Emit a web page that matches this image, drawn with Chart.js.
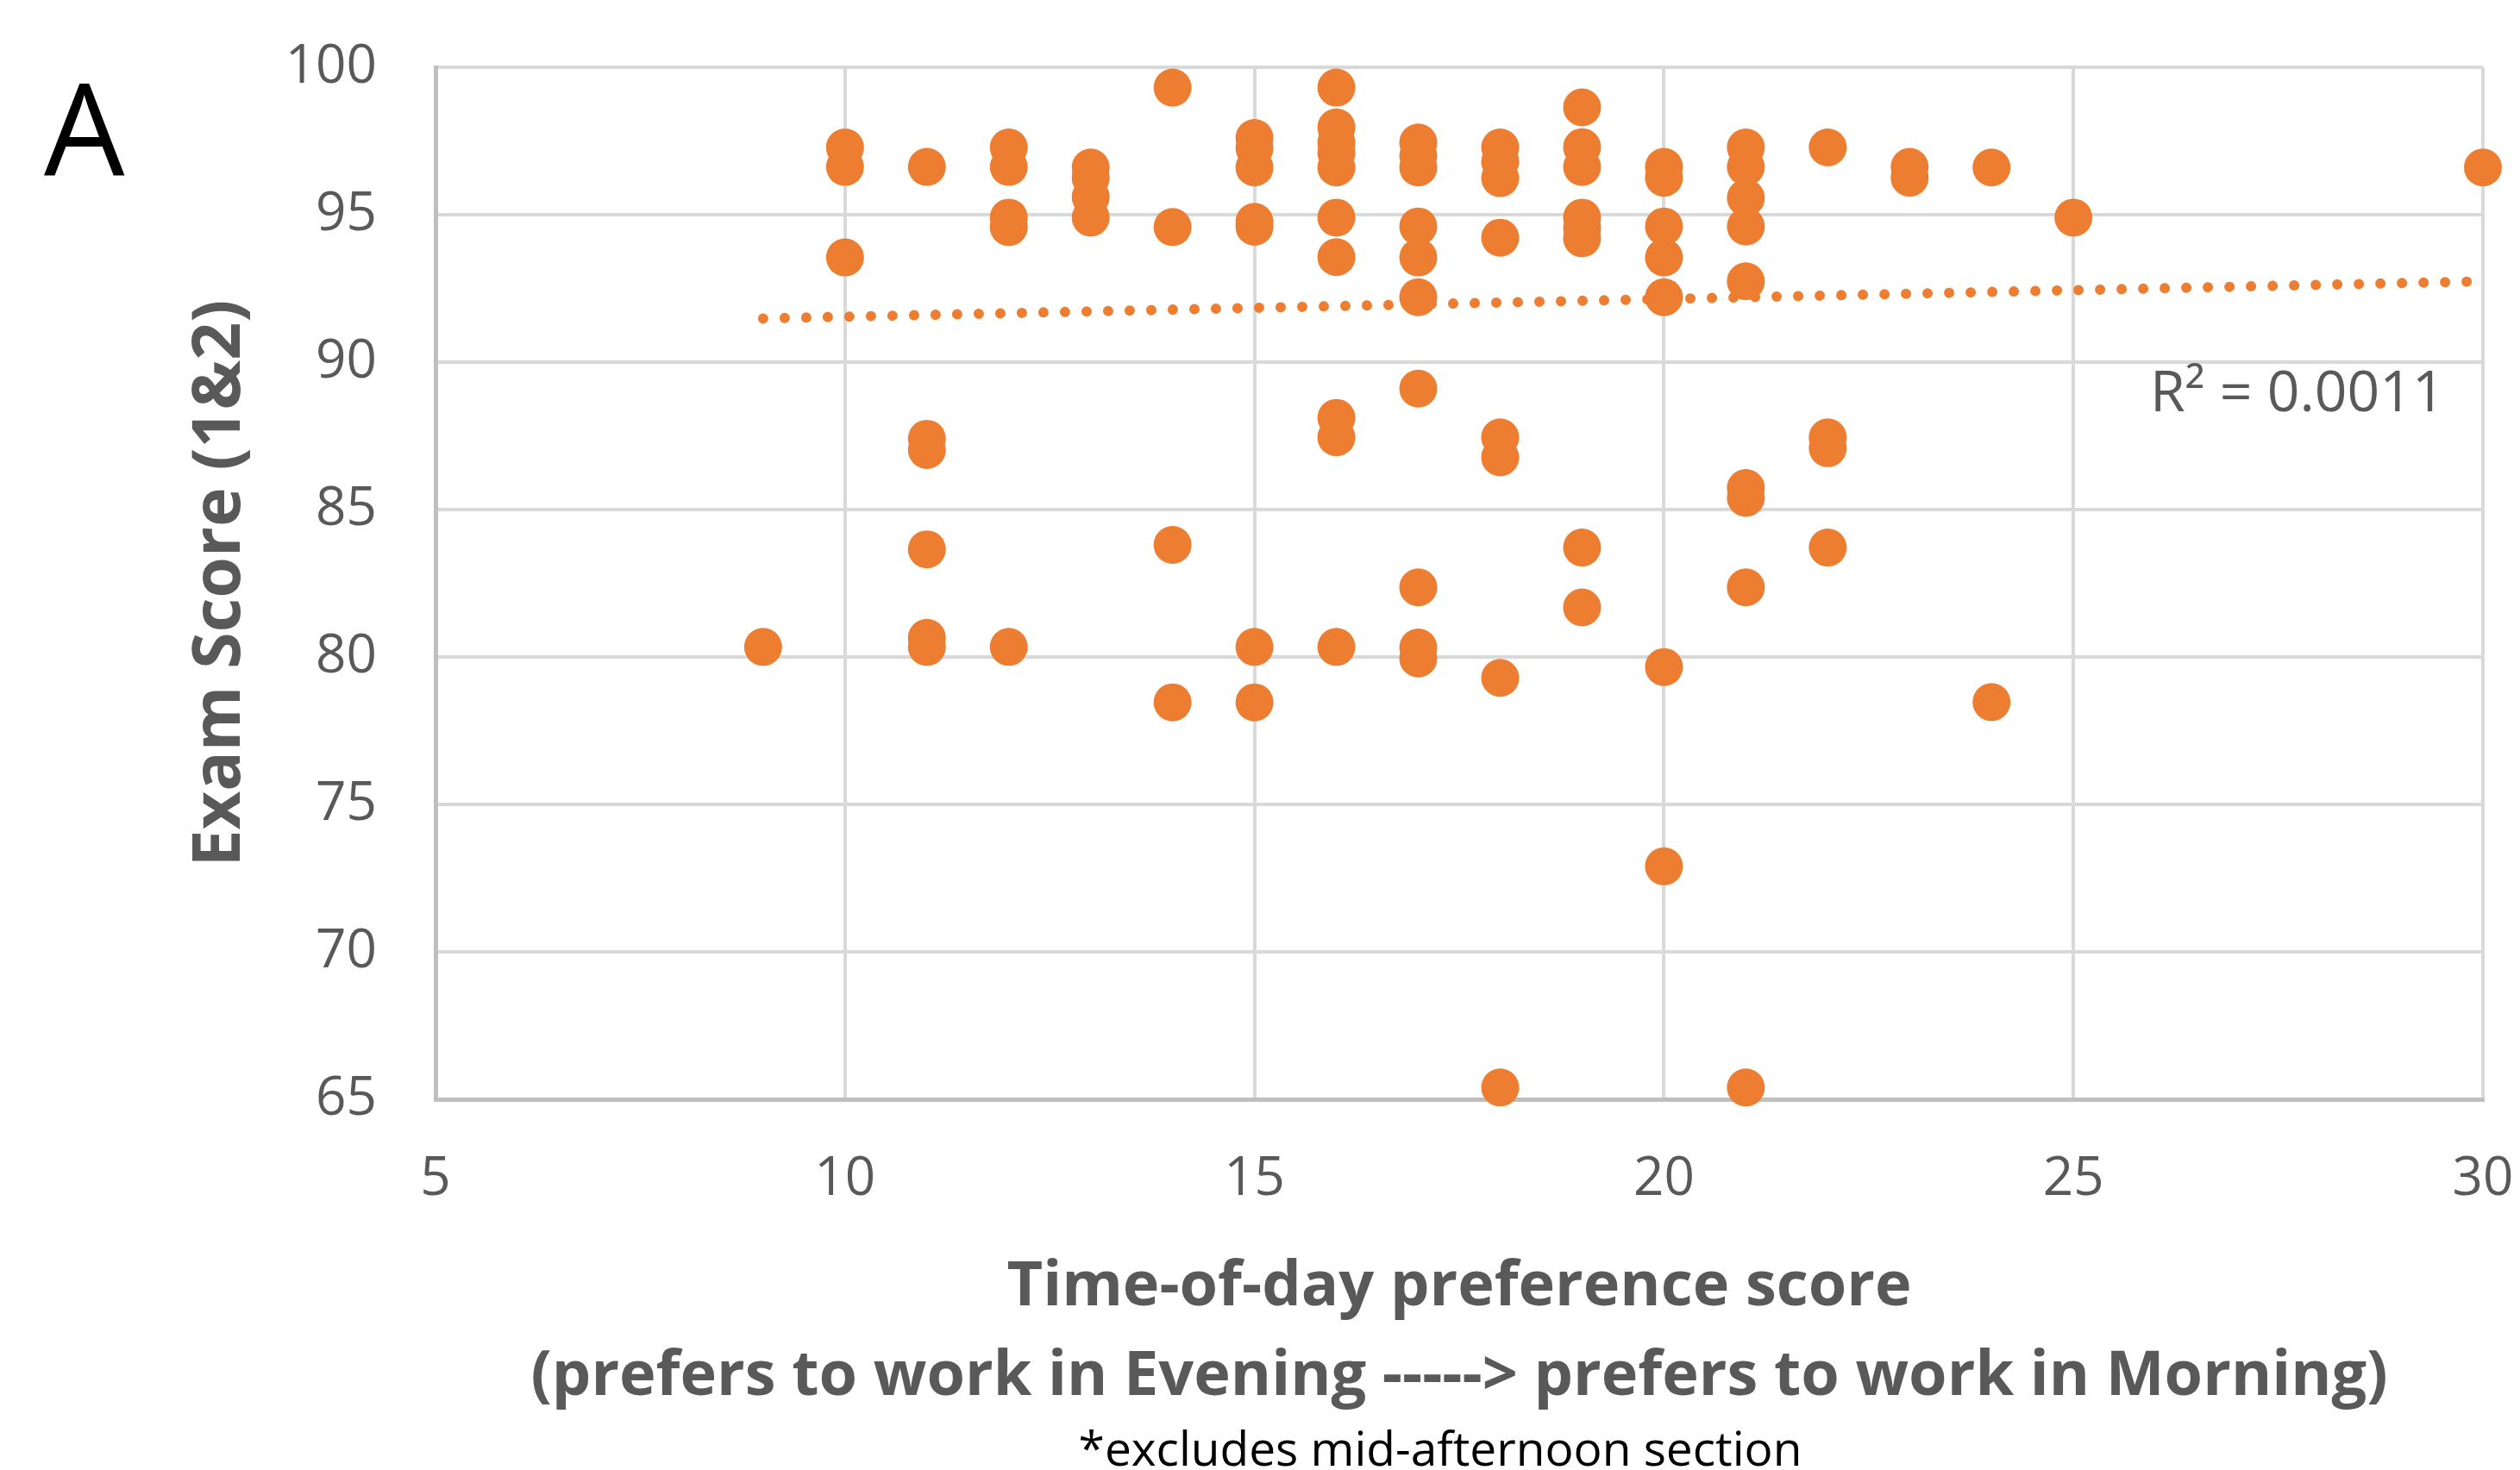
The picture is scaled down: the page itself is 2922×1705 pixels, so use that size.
<!DOCTYPE html>
<html>
<head>
<meta charset="utf-8">
<script src="https://cdn.jsdelivr.net/npm/chart.js@4"></script>
<style>
  body { margin: 0; background: #fff; }
  #wrap { position: relative; width: 2922px; height: 1705px; overflow: hidden; font-family: "Open Sans", sans-serif; }
  #panel { position: absolute; left: 51px; top: 73px; font-size: 148px; line-height: 1; color: #000; }
  #rsq { position: absolute; left: 2493px; top: 418px; font-size: 66px; line-height: 1; color: #595959; white-space: nowrap; }
  #note { position: absolute; left: 1670px; top: 1651px; transform: translateX(-50%); font-size: 55px; line-height: 1; color: #000; white-space: nowrap; }
</style>
</head>
<body>
<div id="wrap">
  <canvas id="chart" width="2922" height="1705"></canvas>
  <div id="panel">A</div>
  <div id="rsq">R² = 0.0011</div>
  <div id="note">*excludes mid-afternoon section</div>
</div>
<script>
// one entry per student: preference score and exam score
const prefScore = [
  9,
  10, 10, 10,
  11, 11, 11, 11, 11, 11,
  12, 12, 12, 12, 12,
  13, 13, 13, 13,
  14, 14, 14, 14,
  15, 15, 15, 15, 15, 15, 15,
  16, 16, 16, 16, 16, 16, 16, 16, 16, 16,
  17, 17, 17, 17, 17, 17, 17, 17, 17, 17,
  18, 18, 18, 18, 18, 18, 18, 18,
  19, 19, 19, 19, 19, 19, 19, 19,
  20, 20, 20, 20, 20, 20, 20,
  21, 21, 21, 21, 21, 21, 21, 21, 21,
  22, 22, 22, 22,
  23, 23,
  24, 24,
  25,
  30
];
const examScore = [
  80.34,
  97.28, 96.62, 93.55,
  96.62, 87.4, 87.02, 83.65, 80.65, 80.34,
  97.28, 96.62, 94.9, 94.58, 80.34,
  96.6, 96.25, 95.6, 94.9,
  99.31, 94.58, 83.8, 78.46,
  97.6, 97.25, 96.6, 94.76, 94.59, 80.34, 78.46,
  99.31, 97.96, 97.45, 97.1, 96.6, 94.9, 93.56, 88.11, 87.45, 80.34,
  97.45, 97.0, 96.6, 94.6, 93.55, 92.2, 89.1, 82.36, 80.32, 79.95,
  97.28, 96.8, 96.24, 94.22, 87.45, 86.77, 79.29, 65.4,
  98.64, 97.29, 96.62, 94.9, 94.55, 94.2, 83.71, 81.68,
  96.62, 96.25, 94.6, 93.55, 92.2, 79.66, 72.9,
  97.28, 96.62, 95.57, 94.6, 92.74, 85.73, 85.4, 82.36, 65.4,
  97.28, 87.45, 87.08, 83.71,
  96.62, 96.25,
  96.6, 78.47,
  94.9,
  96.6
];
// linear trendline end points
const trendX = [9, 30];
const trendY = [91.48, 92.74];
const xTicks = [5, 10, 15, 20, 25, 30];
const yTicks = [65, 70, 75, 80, 85, 90, 95, 100];

const orange = "#ED7D31";
const gray = "#595959";
Chart.defaults.font.family = "'Open Sans', sans-serif";

new Chart(document.getElementById("chart"), {
  type: "scatter",
  data: {
    datasets: [
      {
        label: "Exam score",
        data: prefScore.map((x, i) => ({ x: x, y: examScore[i] })),
        backgroundColor: orange,
        borderWidth: 0,
        pointRadius: 22,
        pointHoverRadius: 22,
        clip: false,
      },
      {
        type: "line",
        label: "Trend",
        data: trendX.map((x, i) => ({ x: x, y: trendY[i] })),
        borderColor: orange,
        borderWidth: 12,
        borderDash: [0.01, 25],
        borderCapStyle: "round",
        pointRadius: 0,
        fill: false,
      },
    ],
  },
  options: {
    responsive: false,
    devicePixelRatio: 1,
    animation: false,
    layout: { padding: { left: 0, right: 43, top: 78, bottom: 0 } },
    plugins: {
      legend: { display: false },
      tooltip: { enabled: false },
    },
    scales: {
      x: {
        type: "linear",
        min: 5,
        max: 30,
        afterBuildTicks: function (s) {
          s.ticks = xTicks.map((v) => ({ value: v }));
        },
        afterFit: function (s) {
          s.height = 430;
          s.paddingLeft = 0;
          s.paddingRight = 0;
        },
        grid: { color: "#d9d9d9", lineWidth: 4, drawTicks: false },
        border: { color: "#bfbfbf", width: 5 },
        ticks: { padding: 56, color: gray, font: { size: 62 } },
        title: {
          display: true,
          text: [
            "Time-of-day preference score",
            "(prefers to work in Evening -----> prefers to work in Morning)",
          ],
          color: gray,
          font: { size: 72, weight: "bold", lineHeight: 1.444 },
          padding: { top: 0, bottom: 56 },
        },
      },
      y: {
        type: "linear",
        min: 65,
        max: 100,
        afterBuildTicks: function (s) {
          s.ticks = yTicks.map((v) => ({ value: v }));
        },
        afterFit: function (s) {
          s.width = 505;
          s.paddingTop = 0;
          s.paddingBottom = 0;
        },
        grid: { color: "#d9d9d9", lineWidth: 4, drawTicks: false },
        border: { color: "#bfbfbf", width: 5 },
        ticks: { padding: 68, color: gray, font: { size: 62 } },
        title: {
          display: true,
          text: "Exam Score (1&2)",
          color: gray,
          font: { size: 77, weight: "bold", lineHeight: 1.2 },
          padding: { top: 210, bottom: 0 },
        },
      },
    },
  },
});
</script>
</body>
</html>
